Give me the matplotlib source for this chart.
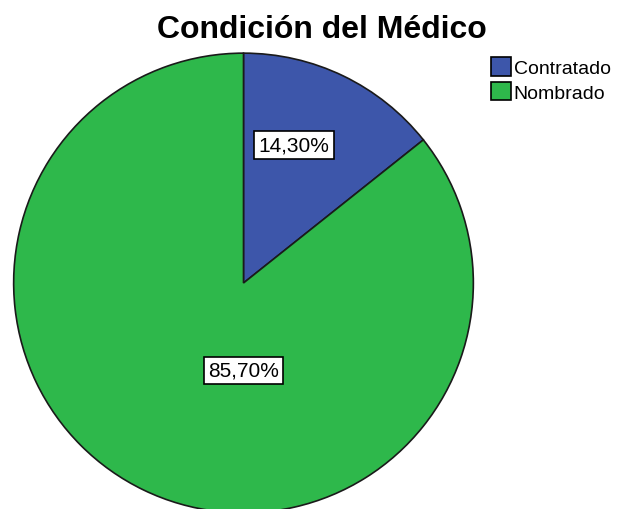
import matplotlib.pyplot as plt
from matplotlib.patches import Patch

categorias = ['Contratado', 'Nombrado']
porcentajes = [14.30, 85.70]
etiquetas = ['14,30%', '85,70%']
colores = ['#3d56aa', '#2eb84b']

plt.rcParams['font.family'] = ['Liberation Sans', 'DejaVu Sans']

fig = plt.figure(figsize=(6.25, 5.1), dpi=100)
# eje cuadrado colocado a mano (centro ~ (242, 284) px, radio ~230 px)
ax = fig.add_axes([12.5 / 625, (510 - 284 - 231) / 510, 462 / 625, 462 / 510])

wedges, _ = ax.pie(porcentajes, colors=colores, startangle=90, counterclock=False,
                   radius=1, wedgeprops=dict(edgecolor='#1a1a1a', linewidth=1.2))
ax.set_xlim(-1.005, 1.005)
ax.set_ylim(-1.005, 1.005)
ax.set_aspect('auto')
ax.axis('off')

# etiquetas en caja blanca
pos = [(0.22, 0.6), (0.0, -0.38)]
for (x, y), t in zip(pos, etiquetas):
    ax.text(x, y, t, ha='center', va='center', fontsize=15,
            bbox=dict(boxstyle='square,pad=0.2', facecolor='white',
                      edgecolor='black', linewidth=1.2))

fig.text(322 / 625, 1 - 30 / 510, 'Condición del Médico', ha='center', va='center',
         fontsize=23, fontweight='bold')

handles = [Patch(facecolor=c, edgecolor='black', linewidth=1.2) for c in colores]
fig.legend(handles, categorias, loc='upper left', bbox_to_anchor=(491 / 625, 1 - 58 / 510),
           frameon=False, fontsize=14, handlelength=1.05, handleheight=1.1,
           handletextpad=0.12, labelspacing=0.25, borderpad=0, borderaxespad=0)

fig.savefig('out.png', dpi=100)
